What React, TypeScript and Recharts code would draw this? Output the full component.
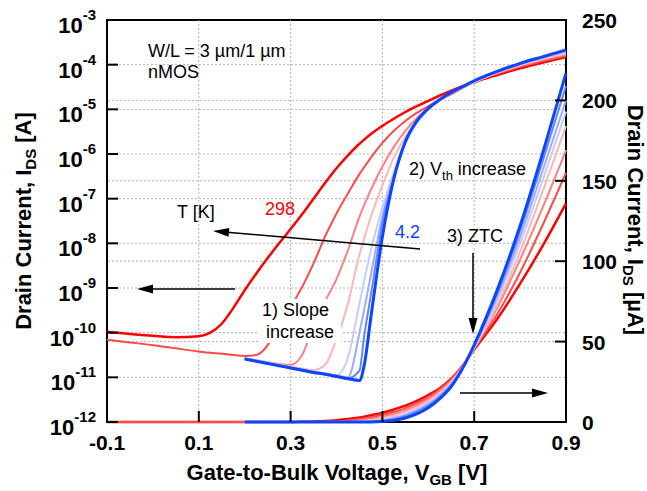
import React from 'react';
import { LineChart, Line, XAxis, YAxis, ReferenceLine } from 'recharts';

// gate-to-bulk voltage [V]
const voltage = [-0.1, -0.05, 0, 0.05, 0.1, 0.125, 0.15, 0.175, 0.2, 0.225, 0.25, 0.275, 0.3, 0.325, 0.35, 0.375, 0.4, 0.425, 0.45, 0.46, 0.475, 0.5, 0.525, 0.55, 0.575, 0.6, 0.625, 0.65, 0.675, 0.7, 0.75, 0.8, 0.85, 0.9];

// log10(I_DS [A])
const log298 = [-9.98, -10.03, -10.07, -10.1, -10.08, -10.0, -9.8, -9.45, -9.05, -8.68, -8.33, -8.0, -7.68, -7.35, -7.0, -6.65, -6.32, -6.03, -5.77, -5.68, -5.55, -5.37, -5.21, -5.06, -4.93, -4.81, -4.69, -4.58, -4.48, -4.39, -4.23, -4.08, -3.95, -3.83];
const log200 = [-10.16, -10.22, -10.28, -10.35, -10.42, -10.45, -10.47, -10.5, -10.52, -10.5, -10.28, -9.78, -9.42, -8.98, -8.45, -7.85, -7.33, -6.88, -6.45, -6.3, -6.08, -5.75, -5.48, -5.26, -5.08, -4.93, -4.79, -4.66, -4.52, -4.39, -4.2, -4.05, -3.92, -3.8];
const log150 = [null, null, null, null, null, null, null, null, -10.58, -10.62, -10.66, -10.7, -10.72, -10.5, -9.85, -9.3, -8.8, -8.15, -7.4, -7.15, -6.8, -6.28, -5.84, -5.48, -5.2, -4.99, -4.8, -4.64, -4.51, -4.39, -4.19, -4.03, -3.89, -3.78];
const log100 = [null, null, null, null, null, null, null, null, -10.58, -10.62, -10.67, -10.71, -10.76, -10.8, -10.84, -10.72, -10.15, -9.35, -8.25, -7.9, -7.4, -6.7, -6.08, -5.62, -5.26, -5.0, -4.79, -4.63, -4.5, -4.38, -4.18, -4.01, -3.87, -3.75];
const log77 = [null, null, null, null, null, null, null, null, -10.58, -10.63, -10.68, -10.73, -10.78, -10.82, -10.87, -10.91, -10.95, -10.55, -9.35, -8.85, -8.15, -7.2, -6.4, -5.75, -5.3, -5.01, -4.8, -4.63, -4.5, -4.38, -4.17, -4.0, -3.85, -3.72];
const log50 = [null, null, null, null, null, null, null, null, -10.58, -10.63, -10.68, -10.73, -10.78, -10.83, -10.87, -10.92, -10.96, -11.0, -10.0, -9.5, -8.7, -7.4, -6.5, -5.76, -5.29, -5.0, -4.79, -4.62, -4.49, -4.37, -4.16, -3.99, -3.84, -3.7];
const log20 = [null, null, null, null, null, null, null, null, -10.59, -10.64, -10.69, -10.74, -10.79, -10.83, -10.88, -10.93, -10.97, -11.02, -10.85, -10.1, -9.15, -7.55, -6.55, -5.74, -5.27, -4.99, -4.78, -4.62, -4.49, -4.36, -4.16, -3.98, -3.83, -3.68];
const log4 = [null, null, null, null, null, null, null, null, -10.59, -10.64, -10.69, -10.74, -10.79, -10.84, -10.89, -10.93, -10.98, -11.03, -11.07, -10.75, -9.65, -7.85, -6.55, -5.72, -5.26, -4.98, -4.78, -4.62, -4.49, -4.36, -4.15, -3.97, -3.82, -3.67];

// I_DS [uA]
const lin298 = [0, 0, 0, 0, 0, 0, 0, 0, 0, 0, 0, 0, 0, 0.1, 0.3, 0.6, 1.1, 1.8, 2.8, 3.3, 4.2, 5.8, 7.8, 10.2, 13.2, 16.8, 21, 27, 35, 45, 64, 86, 110, 136];
const lin200 = [0, 0, 0, 0, 0, 0, 0, 0, 0, 0, 0, 0, 0, 0, 0, 0.2, 0.5, 1.0, 1.8, 2.2, 2.9, 4.3, 6.2, 8.6, 11.7, 15.5, 20.3, 26.5, 35, 45.5, 67, 93, 123, 155];
const lin150 = [null, null, null, null, null, null, null, null, 0, 0, 0, 0, 0, 0, 0, 0, 0, 0.3, 0.9, 1.3, 1.9, 3.2, 5.0, 7.3, 10.3, 14.2, 19.2, 25.6, 34.5, 46, 71, 101, 134, 169];
const lin100 = [null, null, null, null, null, null, null, null, 0, 0, 0, 0, 0, 0, 0, 0, 0, 0, 0.4, 0.7, 1.2, 2.3, 3.9, 6.2, 9.2, 13.0, 18.2, 24.8, 34, 46, 73, 106, 144, 184];
const lin77 = [null, null, null, null, null, null, null, null, 0, 0, 0, 0, 0, 0, 0, 0, 0, 0, 0, 0, 0.5, 1.4, 2.8, 4.9, 7.8, 11.8, 17.2, 24.2, 34, 46.5, 76, 111, 151, 193];
const lin50 = [null, null, null, null, null, null, null, null, 0, 0, 0, 0, 0, 0, 0, 0, 0, 0, 0, 0, 0.3, 1.0, 2.3, 4.3, 7.2, 11.0, 16.5, 23.5, 34, 47, 78, 115, 157, 200];
const lin20 = [null, null, null, null, null, null, null, null, 0, 0, 0, 0, 0, 0, 0, 0, 0, 0, 0, 0, 0, 0.7, 1.8, 3.6, 6.4, 10.2, 15.6, 23, 33.8, 47.5, 80, 119, 163, 209];
const lin4 = [null, null, null, null, null, null, null, null, 0, 0, 0, 0, 0, 0, 0, 0, 0, 0, 0, 0, 0, 0.3, 1.0, 2.5, 5.0, 8.8, 14.5, 22, 33.5, 48, 82, 122, 168, 217];

const xTicks = [-0.1, 0.1, 0.3, 0.5, 0.7, 0.9];
const logTicks = [-12, -11, -10, -9, -8, -7, -6, -5, -4, -3];
const linTicks = [0, 50, 100, 150, 200, 250];
const gridX = [0.1, 0.3, 0.5, 0.7];
const gridLog = [-11, -10, -9, -8, -7, -6, -5, -4];
const gridLin = [50, 100, 150, 200];

const series = [
  { key: 't298', log: log298, lin: lin298, color: '#ff0000', width: 2.5 },
  { key: 't200', log: log200, lin: lin200, color: '#ff4a4a', width: 2 },
  { key: 't150', log: log150, lin: lin150, color: '#ff8080', width: 2 },
  { key: 't100', log: log100, lin: lin100, color: '#ffb6b6', width: 2 },
  { key: 't77', log: log77, lin: lin77, color: '#c6ccff', width: 2 },
  { key: 't50', log: log50, lin: lin50, color: '#9eabff', width: 2 },
  { key: 't20', log: log20, lin: lin20, color: '#6682ff', width: 2 },
  { key: 't4', log: log4, lin: lin4, color: '#0a45ff', width: 3 },
];

const rows = voltage.map((v, i) => {
  const r: any = { v };
  series.forEach((s) => {
    r['log_' + s.key] = s.log[i];
    r['lin_' + s.key] = s.lin[i];
  });
  return r;
});

const FONT = '"Liberation Sans", Arial, sans-serif';
const GRID = '#b4b4b4';

const LogTick = (p: any) => (
  <g>
    <line x1={p.x} y1={p.y} x2={p.x + 11} y2={p.y} stroke="#000" strokeWidth={2} />
    <text x={p.x - 11} y={p.y + 13} textAnchor="end" fontFamily={FONT} fontWeight="bold" fill="#000">
      <tspan fontSize={22}>10</tspan>
      <tspan fontSize={15} dy={-13}>{p.payload.value}</tspan>
    </text>
  </g>
);

const LinTick = (p: any) => (
  <g>
    <line x1={p.x - 11} y1={p.y} x2={p.x} y2={p.y} stroke="#000" strokeWidth={2} />
    <text x={p.x + 16} y={p.y + 8} textAnchor="start" fontFamily={FONT} fontWeight="bold" fontSize={21} fill="#000">
      {p.payload.value}
    </text>
  </g>
);

const XTick = (p: any) => (
  <g>
    <line x1={p.x} y1={p.y} x2={p.x} y2={p.y - 11} stroke="#000" strokeWidth={2} />
    <text x={p.x} y={p.y + 28} textAnchor="middle" fontFamily={FONT} fontWeight="bold" fontSize={21} fill="#000">
      {p.payload.value}
    </text>
  </g>
);

function Arrow({ x1, y1, x2, y2 }: { x1: number; y1: number; x2: number; y2: number }) {
  const len = Math.hypot(x2 - x1, y2 - y1);
  const ux = (x2 - x1) / len;
  const uy = (y2 - y1) / len;
  const bx = x2 - ux * 16;
  const by = y2 - uy * 16;
  const px = -uy * 4.5;
  const py = ux * 4.5;
  return (
    <g>
      <line x1={x1} y1={y1} x2={bx + ux * 2} y2={by + uy * 2} stroke="#000" strokeWidth={1.5} />
      <polygon points={`${x2},${y2} ${bx + px},${by + py} ${bx - px},${by - py}`} fill="#000" />
    </g>
  );
}

export default function App() {
  const abs: React.CSSProperties = { position: 'absolute', left: 0, top: 0, pointerEvents: 'none' };
  return (
    <div style={{ position: 'relative', width: 647, height: 491, background: '#fff' }}>
      <style>{'body{margin:0}'}</style>
      {/* frame sits under the curves */}
      <svg width={647} height={491} style={abs}>
        <rect x={107} y={20} width={459} height={402} fill="none" stroke="#000" strokeWidth={2} />
      </svg>
      <LineChart width={647} height={491} data={rows} margin={{ top: 20, right: 0, bottom: 0, left: 0 }}>
        <XAxis
          dataKey="v"
          type="number"
          domain={[-0.1, 0.9]}
          ticks={xTicks}
          interval={0}
          height={69}
          axisLine={false}
          tickLine={false}
          tickSize={0}
          tickMargin={0}
          tick={(p: any) => <XTick {...p} />}
        />
        <YAxis
          yAxisId="log"
          orientation="left"
          type="number"
          domain={[-12, -3]}
          ticks={logTicks}
          interval={0}
          width={107}
          axisLine={false}
          tickLine={false}
          tickSize={0}
          tickMargin={0}
          tick={(p: any) => <LogTick {...p} />}
        />
        <YAxis
          yAxisId="lin"
          orientation="right"
          type="number"
          domain={[0, 250]}
          ticks={linTicks}
          interval={0}
          width={81}
          axisLine={false}
          tickLine={false}
          tickSize={0}
          tickMargin={0}
          tick={(p: any) => <LinTick {...p} />}
        />
        {gridX.map((g) => (
          <ReferenceLine key={'gx' + g} x={g} yAxisId="log" stroke={GRID} strokeDasharray="2 2" />
        ))}
        {gridLog.map((g) => (
          <ReferenceLine key={'gl' + g} y={g} yAxisId="log" stroke={GRID} strokeDasharray="2 2" />
        ))}
        {gridLin.map((g) => (
          <ReferenceLine key={'gn' + g} y={g} yAxisId="lin" stroke={GRID} strokeDasharray="2 2" />
        ))}
        {series.map((s) => (
          <Line
            key={'lin' + s.key}
            yAxisId="lin"
            dataKey={'lin_' + s.key}
            type="monotone"
            stroke={s.color}
            strokeWidth={s.width}
            dot={false}
            activeDot={false}
            isAnimationActive={false}
          />
        ))}
        {series.map((s) => (
          <Line
            key={'log' + s.key}
            yAxisId="log"
            dataKey={'log_' + s.key}
            type="monotone"
            stroke={s.color}
            strokeWidth={s.width}
            dot={false}
            activeDot={false}
            isAnimationActive={false}
          />
        ))}
      </LineChart>
      <svg width={647} height={491} style={abs} fontFamily={FONT}>
        <text transform="translate(31,221) rotate(-90)" textAnchor="middle" fontWeight="bold" fontSize={22}>
          <tspan>Drain Current, I</tspan>
          <tspan fontSize={15} dy={5}>DS</tspan>
          <tspan dy={-5}> [A]</tspan>
        </text>
        <text transform="translate(628,220) rotate(90)" textAnchor="middle" fontWeight="bold" fontSize={22}>
          <tspan>Drain Current, I</tspan>
          <tspan fontSize={15} dy={5}>DS</tspan>
          <tspan dy={-5}> [µA]</tspan>
        </text>
        <text x={337} y={480} textAnchor="middle" fontWeight="bold" fontSize={22}>
          <tspan>Gate-to-Bulk Voltage, V</tspan>
          <tspan fontSize={15} dy={5}>GB</tspan>
          <tspan dy={-5}> [V]</tspan>
        </text>

        <text x={148} y={57} fontSize={18}>W/L = 3 µm/1 µm</text>
        <text x={148} y={78} fontSize={18}>nMOS</text>
        <text x={177} y={218} fontSize={18}>T [K]</text>
        <text x={265} y={215} fontSize={18} fill="#ff0000">298</text>
        <text x={395} y={238} fontSize={18} fill="#0a45ff">4.2</text>
        <text x={409} y={175} fontSize={18}>
          <tspan>2) V</tspan>
          <tspan fontSize={13} dy={5}>th</tspan>
          <tspan dy={-5}> increase</tspan>
        </text>
        <text x={447} y={242} fontSize={18}>3) ZTC</text>
        <rect x={258} y={299} width={83} height={44} fill="#fff" />
        <text x={262} y={316} fontSize={18}>1) Slope</text>
        <text x={266} y={338} fontSize={18}>increase</text>

        <Arrow x1={235} y1={289} x2={137} y2={289} />
        <Arrow x1={460} y1={393} x2={548} y2={393} />
        <Arrow x1={420} y1={249} x2={213} y2={231} />
        <Arrow x1={473} y1={253} x2={473} y2={334} />
      </svg>
    </div>
  );
}
